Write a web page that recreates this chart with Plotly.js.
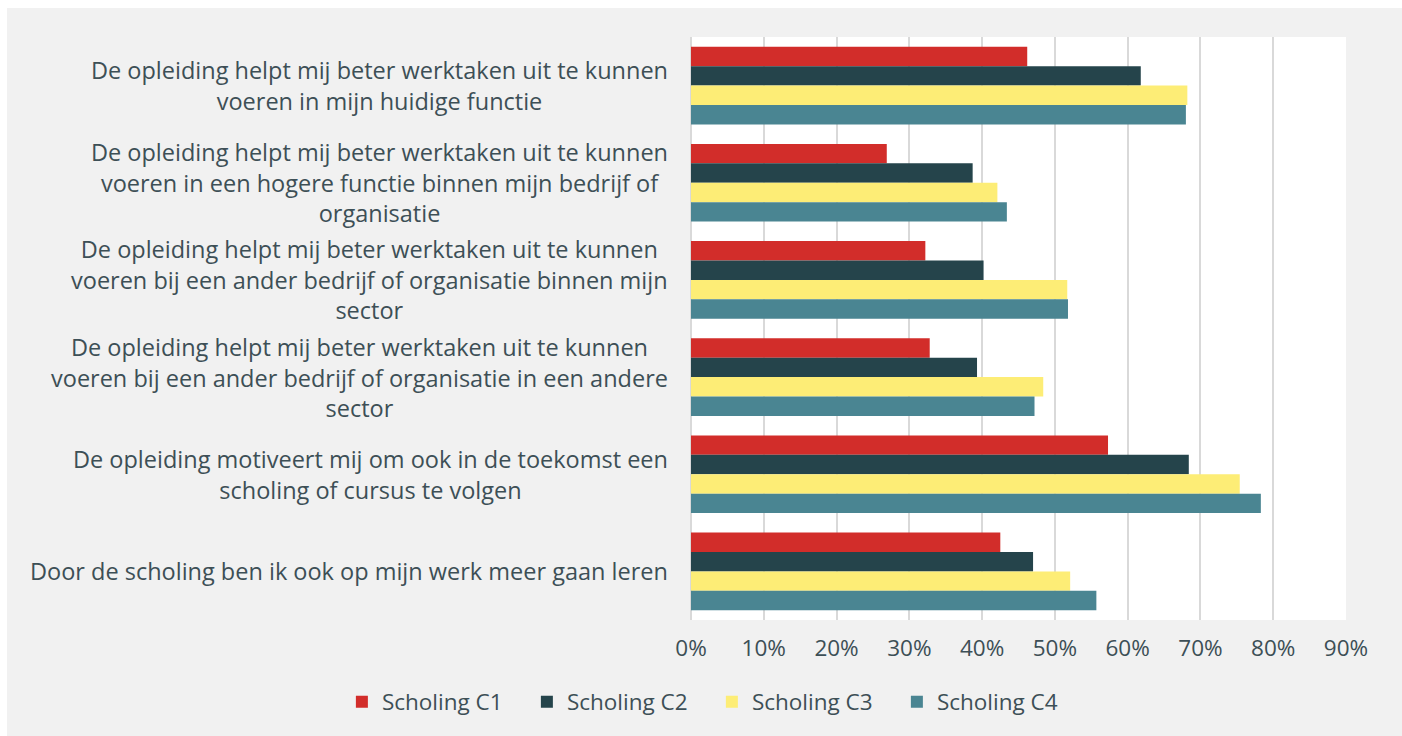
<!DOCTYPE html>
<html>
<head>
<meta charset="utf-8">
<script src="https://cdn.plot.ly/plotly-3.0.1.min.js"></script>
<style>
  html, body { margin: 0; padding: 0; background: #ffffff; }
  #chart { position: absolute; left: 7px; top: 8px; width: 1395px; height: 728px; }
</style>
</head>
<body>
<div id="chart"></div>
<script>
const categories = [
  "De opleiding helpt mij beter werktaken uit te kunnen<br>voeren in mijn huidige functie",
  "De opleiding helpt mij beter werktaken uit te kunnen<br>voeren in een hogere functie binnen mijn bedrijf of<br>organisatie",
  "De opleiding helpt mij beter werktaken uit te kunnen<br>voeren bij een ander bedrijf of organisatie binnen mijn<br>sector",
  "De opleiding helpt mij beter werktaken uit te kunnen<br>voeren bij een ander bedrijf of organisatie in een andere<br>sector",
  "De opleiding motiveert mij om ook in de toekomst een<br>scholing of cursus te volgen",
  "Door de scholing ben ik ook op mijn werk meer gaan leren"
];
const seriesNames = ["Scholing C1", "Scholing C2", "Scholing C3", "Scholing C4"];
const scholingC1 = [0.462, 0.269, 0.322, 0.328, 0.573, 0.425];
const scholingC2 = [0.618, 0.387, 0.402, 0.393, 0.684, 0.470];
const scholingC3 = [0.682, 0.421, 0.517, 0.484, 0.754, 0.521];
const scholingC4 = [0.680, 0.434, 0.518, 0.472, 0.783, 0.557];
const tickValues = [0, 0.1, 0.2, 0.3, 0.4, 0.5, 0.6, 0.7, 0.8, 0.9];
const tickLabels = ["0%", "10%", "20%", "30%", "40%", "50%", "60%", "70%", "80%", "90%"];
const colors = ["#d22d2a", "#25444b", "#fded76", "#4a8592"];

const textColor = "#3d4f56";
const fontFamily = "'Open Sans', Lato, sans-serif";
const values = [scholingC1, scholingC2, scholingC3, scholingC4];

const traces = values.map((v, i) => ({
  type: "bar",
  orientation: "h",
  name: seriesNames[i],
  x: v,
  y: categories,
  marker: { color: colors[i], line: { width: 0 } },
  hoverinfo: "x+name"
}));

const annotations = categories.map(c => ({
  text: c,
  x: 0,
  xref: "paper",
  xanchor: "right",
  xshift: -21,
  y: c,
  yref: "y",
  yanchor: "middle",
  align: "center",
  showarrow: false,
  font: { family: fontFamily, size: 23.5, color: textColor }
}));

const layout = {
  width: 1395,
  height: 728,
  paper_bgcolor: "#f1f1f1",
  plot_bgcolor: "#ffffff",
  margin: { l: 684, r: 56, t: 29, b: 116 },
  barmode: "group",
  bargap: 0.2,
  bargroupgap: 0,
  font: { family: fontFamily, size: 22, color: textColor },
  xaxis: {
    range: [0, 0.9],
    tickvals: tickValues,
    ticktext: tickLabels,
    showgrid: true,
    gridcolor: "#d9d9d9",
    gridwidth: 2,
    zeroline: true,
    zerolinecolor: "#d9d9d9",
    zerolinewidth: 2,
    showline: false,
    ticks: "",
    ticklabelstandoff: 12,
    tickfont: { family: fontFamily, size: 22.5, color: textColor },
    fixedrange: true
  },
  yaxis: {
    autorange: "reversed",
    showticklabels: false,
    showgrid: false,
    zeroline: false,
    showline: false,
    ticks: "",
    fixedrange: true
  },
  annotations: annotations,
  showlegend: true,
  legend: {
    orientation: "h",
    xref: "paper",
    yref: "paper",
    x: -0.533,
    xanchor: "left",
    y: -0.1407,
    yanchor: "middle",
    itemwidth: 30,
    entrywidth: 140,
    entrywidthmode: "pixels",
    font: { family: fontFamily, size: 22.5, color: textColor },
    bgcolor: "rgba(0,0,0,0)",
    traceorder: "normal"
  }
};

Plotly.newPlot("chart", traces, layout, { displayModeBar: false, staticPlot: true });
</script>
</body>
</html>
